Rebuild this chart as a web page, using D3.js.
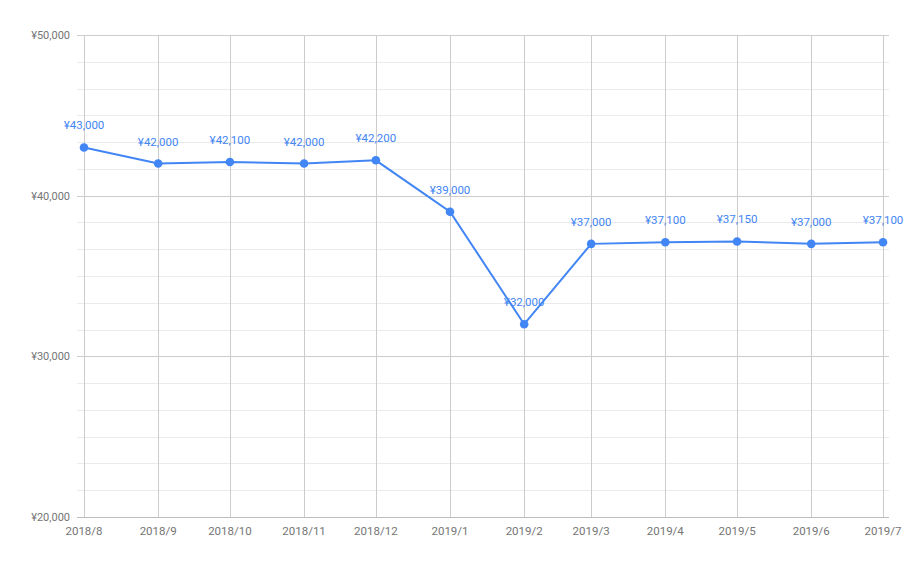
<!DOCTYPE html>
<html><head><meta charset="utf-8">
<script src="https://cdn.jsdelivr.net/npm/d3@7"></script>
<style>body{margin:0;background:#fff}svg{display:block;font-family:Roboto,"Noto Sans",sans-serif}</style>
</head><body><svg id="c" width="918" height="567"></svg>
<script>
const months = ["2018/8","2018/9","2018/10","2018/11","2018/12","2019/1","2019/2","2019/3","2019/4","2019/5","2019/6","2019/7"];
const values = [43000,42000,42100,42000,42200,39000,32000,37000,37100,37150,37000,37100];
const yTicks = [20000,30000,40000,50000];

const svg = d3.select("#c");
const parse = s => { const [y,m] = s.split("/").map(Number); return new Date(y, m-1, 1); };
const dates = months.map(parse);
const x = d3.scaleTime().domain([dates[0], dates[dates.length-1]]).range([84, 883]);
const y = d3.scaleLinear().domain([20000, 50000]).range([517, 35]);
const gridRight = 889, left = 84;

// minor horizontal gridlines
const minor = [];
for (let i = 0; i < yTicks.length-1; i++) {
  for (let k = 1; k < 6; k++) minor.push(yTicks[i] + (yTicks[i+1]-yTicks[i])*k/6);
}
svg.append("g").selectAll("line").data(minor).join("line")
  .attr("x1", left-7).attr("x2", gridRight)
  .attr("y1", d => Math.round(y(d))+0.5).attr("y2", d => Math.round(y(d))+0.5)
  .attr("stroke", "#ebebeb").attr("stroke-width", 1);

// vertical gridlines
svg.append("g").selectAll("line").data(dates).join("line")
  .attr("x1", d => Math.round(x(d))+0.5).attr("x2", d => Math.round(x(d))+0.5)
  .attr("y1", 35).attr("y2", 517)
  .attr("stroke", "#cccccc");

// major horizontal gridlines
svg.append("g").selectAll("line").data(yTicks).join("line")
  .attr("x1", left-7).attr("x2", gridRight)
  .attr("y1", d => Math.round(y(d))+0.5).attr("y2", d => Math.round(y(d))+0.5)
  .attr("stroke", d => d === 20000 ? "#bdbdbd" : "#cccccc");

// y labels
svg.append("g").selectAll("text").data(yTicks).join("text")
  .attr("x", 70).attr("y", d => y(d)).attr("dy", "0.35em")
  .attr("text-anchor", "end").attr("font-size", 11).attr("fill", "#757575")
  .text(d => "¥" + d3.format(",")(d));

// x labels
svg.append("g").selectAll("text").data(months).join("text")
  .attr("x", (d,i) => x(dates[i])).attr("y", 531).attr("dy", "0.35em")
  .attr("text-anchor", "middle").attr("font-size", 11.5).attr("fill", "#757575")
  .text(d => d);

const blue = "#4285f4";
const line = d3.line().x((d,i) => x(dates[i])).y(d => y(d));
svg.append("path").datum(values).attr("d", line)
  .attr("fill", "none").attr("stroke", blue).attr("stroke-width", 2);

svg.append("g").selectAll("circle").data(values).join("circle")
  .attr("cx", (d,i) => x(dates[i])).attr("cy", d => y(d)).attr("r", 4.3)
  .attr("fill", blue);

svg.append("g").selectAll("text").data(values).join("text")
  .attr("x", (d,i) => x(dates[i])).attr("y", d => y(d) - 22).attr("dy", "0.35em")
  .attr("text-anchor", "middle").attr("font-size", 11.5).attr("fill", blue)
  .text(d => "¥" + d3.format(",")(d));
</script></body></html>
